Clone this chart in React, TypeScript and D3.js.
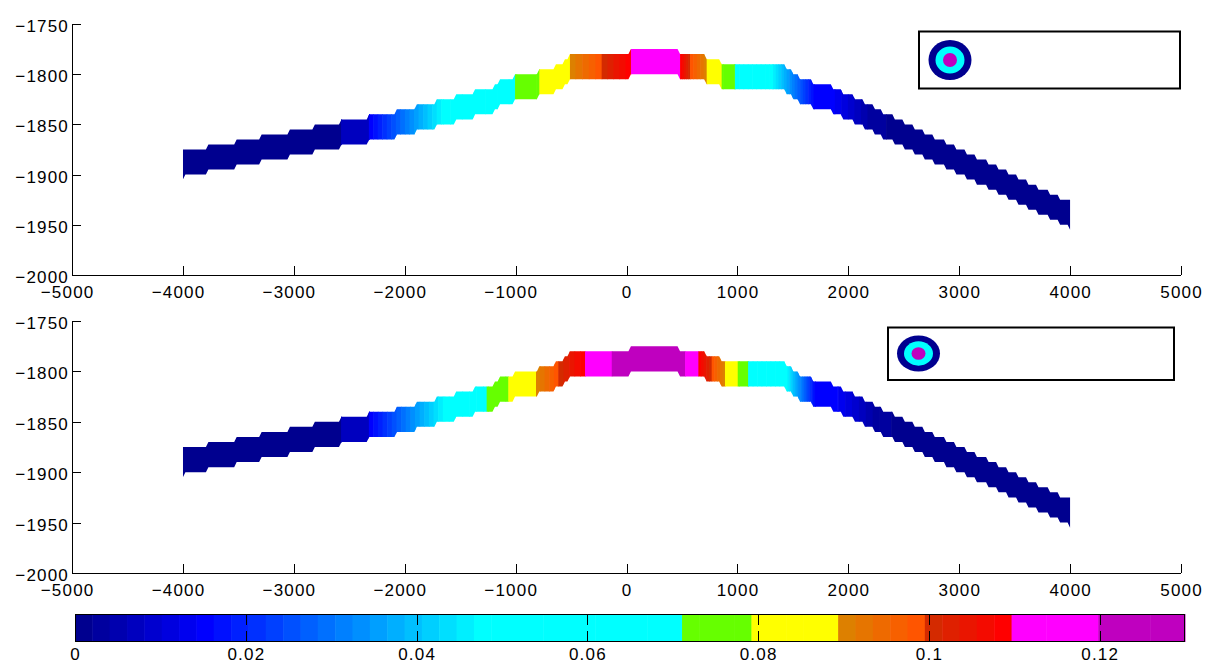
import React from 'react';
import * as d3 from 'd3';

// Two stacked profile panels of a coloured layer + shared horizontal colorbar.
// Layer geometry is a staircase of blocks; colour comes from a value profile
// along x, shaded "interp"-style and quantised to a 64-entry colormap.

const W = 1206;
const H = 664;
const PLOT_L = 72;
const PLOT_R = 1181;
const FONT = '"Liberation Sans", Arial, Helvetica, sans-serif';
const FONT_SIZE = 17;
const LETTER_SP = 1.2;

const X_TICKS = [-5000, -4000, -3000, -2000, -1000, 0, 1000, 2000, 3000, 4000, 5000];
const Y_TICKS = [-2000, -1950, -1900, -1850, -1800, -1750];
const CB_TICKS = [0, 0.02, 0.04, 0.06, 0.08, 0.1, 0.12];
const CB_MAX = 0.13;

const COLORMAP = [
  '#00008f', '#00009f', '#0000af', '#0000bf', '#0000cf', '#0000df', '#0000ef', '#0000ff',
  '#0010ff', '#0020ff', '#0030ff', '#0040ff', '#0050ff', '#0060ff', '#0070ff', '#0080ff',
  '#008fff', '#009fff', '#00afff', '#00bfff', '#00cfff', '#00dfff', '#00efff', '#00ffff',
  '#00ffff', '#00ffff', '#00ffff', '#00ffff', '#00ffff', '#00ffff', '#00ffff', '#00ffff',
  '#00ffff', '#00ffff', '#00ffff', '#66ff00', '#66ff00', '#66ff00', '#66ff00', '#ffff00',
  '#ffff00', '#ffff00', '#ffff00', '#ffff00', '#dd8000', '#e67500', '#ee6a00', '#f76000',
  '#ff5500', '#d42a00', '#df2000', '#ea1500', '#f40b00', '#ff0000', '#ff00ff', '#ff00ff',
  '#ff00ff', '#ff00ff', '#ff00ff', '#bf00bf', '#bf00bf', '#bf00bf', '#bf00bf', '#bf00bf',
];

// layer blocks: x edges (m) and top elevation of each block (m)
const BLOCK_EDGES = [
  -4000, -3770, -3515, -3290, -3035, -2810, -2570, -2320, -2070, -1890, -1710, -1535,
  -1365, -1186, -1140, -1005, -786, -636, -555, -510, 40, 483, 723, 858, 1445, 1505,
  1565, 1685, 1865, 1955, 2060, 2150, 2240, 2315, 2420, 2510, 2600, 2690, 2780, 2885,
  2975, 3070, 3160, 3265, 3355, 3445, 3535, 3625, 3715, 3820, 3910, 4000,
];
const BLOCK_TOPS = [
  -1875, -1870, -1865, -1860, -1855, -1850, -1845, -1840, -1835, -1830, -1825, -1820,
  -1815, -1810, -1805, -1800, -1795, -1790, -1785, -1780, -1775, -1780, -1785, -1790,
  -1795, -1800, -1805, -1810, -1815, -1820, -1825, -1830, -1835, -1840, -1845, -1850,
  -1855, -1860, -1865, -1870, -1875, -1880, -1885, -1890, -1895, -1900, -1905, -1910,
  -1915, -1920, -1925,
];
const LAYER_THICKNESS = 25;

// value profile along the layer, upper panel
const TOP_NODE_X = [
  -4000, -2575, -2570, -2325, -2320, -1655, -1005, -1005, -786, -786, -510, -510,
  -224, -224, 40, 40, 483, 483, 573, 573, 723, 723, 858, 858, 978, 978, 1312, 1690,
  1870, 2230, 4000,
];
const TOP_NODE_V = [
  0.001, 0.001, 0.007, 0.0075, 0.0145, 0.0475, 0.06, 0.075, 0.0775, 0.084, 0.085, 0.0897,
  0.0994, 0.0996, 0.1095, 0.115, 0.115, 0.1095, 0.0996, 0.0994, 0.0897, 0.085, 0.084, 0.0775,
  0.075, 0.065, 0.0475, 0.016, 0.0145, 0.0021, 0.001,
];

// value profile along the layer, lower panel
const BOT_NODE_X = [
  -4000, -2575, -2570, -2325, -2320, -1640, -1261, -1261, -1066, -1066, -816, -816,
  -615, -615, -374, -374, -133, -133, 528, 528, 648, 648, 768, 768, 888, 888, 1003,
  1003, 1098, 1098, 1445, 1700, 1900, 2280, 4000,
];
const BOT_NODE_V = [
  0.001, 0.001, 0.007, 0.0075, 0.0145, 0.0475, 0.06, 0.075, 0.0775, 0.084, 0.085, 0.0897,
  0.0994, 0.0996, 0.1095, 0.115, 0.115, 0.125, 0.125, 0.115, 0.115, 0.1095, 0.0996, 0.0994,
  0.0897, 0.085, 0.084, 0.0775, 0.075, 0.065, 0.0475, 0.016, 0.0145, 0.0021, 0.001,
];

const STEP = CB_MAX / COLORMAP.length;
const cell = (v: number) => Math.max(0, Math.min(COLORMAP.length - 1, Math.floor(v / STEP)));

type Run = { x0: number; x1: number; k: number };

function colorRuns(xs: number[], vs: number[]): Run[] {
  const runs: Run[] = [];
  for (let i = 0; i < xs.length - 1; i++) {
    const x0 = xs[i], x1 = xs[i + 1], v0 = vs[i], v1 = vs[i + 1];
    if (x1 <= x0) continue;
    const k0 = cell(v0), k1 = cell(v1);
    if (k0 === k1) { runs.push({ x0, x1, k: k0 }); continue; }
    const dir = k1 > k0 ? 1 : -1;
    let xa = x0, k = k0;
    while (k !== k1) {
      const bound = (dir > 0 ? k + 1 : k) * STEP;
      const xb = x0 + ((bound - v0) / (v1 - v0)) * (x1 - x0);
      runs.push({ x0: xa, x1: xb, k });
      xa = xb;
      k += dir;
    }
    runs.push({ x0: xa, x1, k: k1 });
  }
  return runs;
}

const SLANT_PX = 2.5;
const TIP = 5;

function bandPath(x: d3.ScaleLinear<number, number>, y: d3.ScaleLinear<number, number>) {
  const n = BLOCK_TOPS.length;
  const topPts: [number, number][] = [];
  const botPts: [number, number][] = [];
  for (let i = 0; i < n; i++) {
    const x0 = x(BLOCK_EDGES[i]);
    const x1 = x(BLOCK_EDGES[i + 1]);
    const t = BLOCK_TOPS[i];
    const b = t - LAYER_THICKNESS;
    topPts.push([x0, y(t)], [i < n - 1 ? x1 - SLANT_PX : x1, y(t)]);
    if (i === 0) botPts.push([x0, y(b - TIP)], [x0 + SLANT_PX, y(b)]);
    else botPts.push([x0, y(b)]);
    botPts.push([x1 - SLANT_PX, y(b)]);
    if (i === n - 1) botPts.push([x1, y(b - TIP)]);
  }
  return d3.line()([...topPts, ...botPts.reverse()]) + 'Z';
}

const fmtAxis = (v: number) => (v < 0 ? '\u2212' + Math.abs(v) : String(v));

type LegendCfg = { x: number; y: number; w: number; h: number; cx: number; cy: number; ry: number };

function Panel({ id, top, bottom, nodeX, nodeV, legend }: {
  id: string; top: number; bottom: number; nodeX: number[]; nodeV: number[]; legend: LegendCfg;
}) {
  const x = d3.scaleLinear().domain([-5000, 5000]).range([PLOT_L, PLOT_R]);
  const y = d3.scaleLinear().domain([-2000, -1750]).range([bottom, top]);
  const runs = colorRuns(nodeX, nodeV);
  const rScale = legend.ry / 20;
  return (
    <g>
      <defs>
        <clipPath id={id}>
          <path d={bandPath(x, y)} />
        </clipPath>
      </defs>
      <g clipPath={`url(#${id})`}>
        {runs.map((r, i) => (
          <rect key={i} x={x(r.x0)} width={x(r.x1) - x(r.x0) + 0.6} y={top} height={bottom - top}
            fill={COLORMAP[r.k]} />
        ))}
      </g>
      <g stroke="#000" strokeWidth={1} fill="none">
        <line x1={PLOT_L} x2={PLOT_R} y1={bottom + 0.5} y2={bottom + 0.5} />
        <line x1={PLOT_L + 0.5} x2={PLOT_L + 0.5} y1={top} y2={bottom} />
        {X_TICKS.map(t => (
          <line key={t} x1={Math.round(x(t)) + 0.5} x2={Math.round(x(t)) + 0.5} y1={bottom} y2={bottom - 9} />
        ))}
        {Y_TICKS.map(t => (
          <line key={t} x1={PLOT_L} x2={PLOT_L + 9} y1={Math.round(y(t)) + 0.5} y2={Math.round(y(t)) + 0.5} />
        ))}
      </g>
      <g fontFamily={FONT} fontSize={FONT_SIZE} letterSpacing={LETTER_SP} fill="#000">
        {X_TICKS.map(t => (
          <text key={t} x={x(t) + (t < 0 ? -5 : 0) + LETTER_SP / 2} y={bottom + 23} textAnchor="middle">{fmtAxis(t)}</text>
        ))}
        {Y_TICKS.map(t => (
          <text key={t} x={PLOT_L - 3} y={y(t) + 8} textAnchor="end">{fmtAxis(t)}</text>
        ))}
      </g>
      <g>
        <rect x={legend.x} y={legend.y} width={legend.w} height={legend.h} fill="#fff" stroke="#000" strokeWidth={2} />
        <ellipse cx={legend.cx} cy={legend.cy} rx={21.5} ry={20 * rScale} fill="#00008f" />
        <ellipse cx={legend.cx} cy={legend.cy} rx={14.5} ry={13.5 * rScale} fill="#00ffff" />
        <ellipse cx={legend.cx} cy={legend.cy} rx={7} ry={7 * rScale} fill="#bf00bf" />
      </g>
    </g>
  );
}

function Colorbar() {
  const x0 = 75, x1 = 1185, top = 614, bottom = 642;
  const c = d3.scaleLinear().domain([0, CB_MAX]).range([x0, x1]);
  return (
    <g>
      {COLORMAP.map((col, i) => (
        <rect key={i} x={c(i * STEP)} y={top} width={c((i + 1) * STEP) - c(i * STEP) + 0.5}
          height={bottom - top} fill={col} />
      ))}
      <rect x={x0 + 0.5} y={top + 0.5} width={x1 - x0 - 1} height={bottom - top - 1} fill="none" stroke="#000" />
      <g stroke="#000">
        {CB_TICKS.map(t => (
          <g key={t}>
            <line x1={Math.round(c(t)) + 0.5} x2={Math.round(c(t)) + 0.5} y1={top} y2={top + 11} />
            <line x1={Math.round(c(t)) + 0.5} x2={Math.round(c(t)) + 0.5} y1={bottom - 11} y2={bottom} />
          </g>
        ))}
      </g>
      <g fontFamily={FONT} fontSize={FONT_SIZE} letterSpacing={LETTER_SP} fill="#000">
        {CB_TICKS.map(t => (
          <text key={t} x={c(t) + LETTER_SP / 2} y={660} textAnchor="middle">{String(t)}</text>
        ))}
      </g>
    </g>
  );
}

export default function App() {
  return (
    <svg width={W} height={H} style={{ position: 'absolute', left: 0, top: 0, background: '#fff' }}>
      <Panel id="clipTop" top={24} bottom={275} nodeX={TOP_NODE_X} nodeV={TOP_NODE_V}
        legend={{ x: 919, y: 31.5, w: 261, h: 57, cx: 950, cy: 60, ry: 20 }} />
      <Panel id="clipBot" top={321} bottom={573} nodeX={BOT_NODE_X} nodeV={BOT_NODE_V}
        legend={{ x: 888, y: 327.5, w: 286, h: 52.5, cx: 918.5, cy: 353.5, ry: 18 }} />
      <Colorbar />
    </svg>
  );
}
